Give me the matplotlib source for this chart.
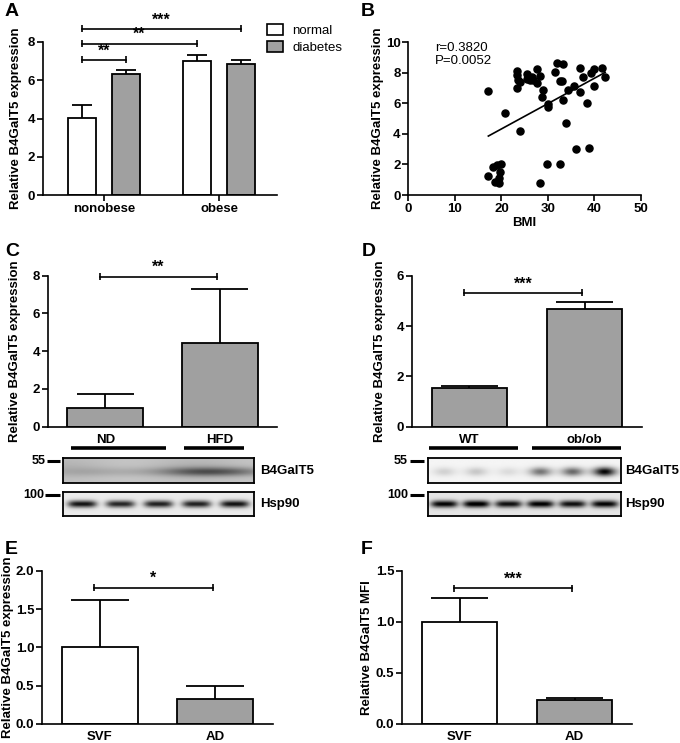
import numpy as np
import matplotlib
matplotlib.use("Agg")
import matplotlib.pyplot as plt
from matplotlib.patches import Patch
from matplotlib.lines import Line2D

plt.rcParams['font.family'] = ['Liberation Sans', 'DejaVu Sans']

# ---------------- data ----------------
# Panel A
a_groups = ["nonobese", "obese"]
a_series = ["normal", "diabetes"]
a_normal = [4.05, 7.02]
a_normal_err = [0.63, 0.30]
a_diabetes = [6.33, 6.87]
a_diabetes_err = [0.22, 0.20]

# Panel B
b_bmi = [17.2, 20.8, 17.2, 18.1, 19.0, 19.9, 19.6, 18.6, 19.4, 19.4,
         23.9, 23.4, 23.4, 23.6, 24.0, 23.4, 25.4, 25.4, 26.5, 26.9,
         27.6, 28.2, 27.7, 26.2, 29.0, 28.7, 30.1, 30.1, 31.5, 32.0,
         33.3, 32.5, 33.1, 33.3, 33.9, 34.4, 35.5, 36.9, 36.8, 37.6,
         38.3, 39.2, 39.8, 39.9, 41.6, 42.3, 36.0, 38.8, 29.9, 28.3, 32.6]
b_expr = [6.83, 5.35, 1.27, 1.86, 1.96, 2.05, 1.49, 0.87, 0.76, 1.10,
          4.17, 8.14, 7.86, 7.53, 7.38, 6.99, 7.92, 7.60, 7.75, 7.53,
          8.25, 7.79, 7.36, 7.53, 6.88, 6.40, 5.96, 5.74, 8.03, 8.62,
          8.56, 7.49, 7.49, 6.22, 4.69, 6.88, 7.14, 8.30, 6.77, 7.75,
          6.05, 7.97, 7.14, 8.23, 8.30, 7.75, 3.01, 3.10, 2.03, 0.76, 2.03]
b_fit_x = [17.2, 42.3]
b_fit_y = [3.86, 8.03]
b_stats = "r=0.3820\nP=0.0052"

# Panel C
c_groups = ["ND", "HFD"]
c_values = [1.0, 4.45]
c_err = [0.75, 2.85]
c_blot_b4 = [0.06, 0.05, 0.07, 0.30, 0.26]
c_blot_hsp = [0.85, 0.78, 0.80, 0.80, 0.86]

# Panel D
d_groups = ["WT", "ob/ob"]
d_values = [1.53, 4.68]
d_err = [0.09, 0.29]
d_blot_b4 = [0.14, 0.18, 0.10, 0.50, 0.55, 0.95]
d_blot_hsp = [0.90, 0.95, 0.85, 0.92, 0.85, 0.90]

# Panel E
e_groups = ["SVF", "AD"]
e_values = [1.0, 0.32]
e_err = [0.62, 0.18]

# Panel F
f_groups = ["SVF", "AD"]
f_values = [1.0, 0.235]
f_err = [0.23, 0.015]

GRAY = '#a0a0a0'
TICK_FS = 9.5
LABEL_FS = 9.5
W, H = 680, 743
fig = plt.figure(figsize=(W / 100, H / 100), dpi=100)


def rect(x0, y0, x1, y1):
    return [x0 / W, 1 - y1 / H, (x1 - x0) / W, (y1 - y0) / H]


def style_axes(ax, ylim, yticks, ylabel, label_px, tick_x=False):
    ax.set_ylim(*ylim)
    ax.set_yticks(yticks)
    for s in ['top', 'right']:
        ax.spines[s].set_visible(False)
    for s in ['left', 'bottom']:
        ax.spines[s].set_linewidth(1.2)
    ax.tick_params(axis='y', direction='out', length=4, width=1.2, pad=1.5,
                   labelsize=TICK_FS)
    ax.tick_params(axis='x', direction='out', length=4 if tick_x else 0,
                   width=1.2, pad=1.5 if tick_x else 5, labelsize=TICK_FS)
    for lab in ax.get_xticklabels() + ax.get_yticklabels():
        lab.set_fontweight('bold')
    ax.set_ylabel(ylabel, fontsize=LABEL_FS, fontweight='bold')
    pos = ax.get_position()
    ax_left_px = pos.x0 * W
    ax_w_px = pos.width * W
    ax.yaxis.set_label_coords((label_px + 6.5 - ax_left_px) / ax_w_px, 0.5)


def px_to_data_h(ax, px):
    pos = ax.get_position()
    ylo, yhi = ax.get_ylim()
    return px / (pos.height * H) * (yhi - ylo)


def err_up(ax, x, val, err, capw):
    ax.vlines(x, val, val + err, color='k', lw=1.3, zorder=1)
    ax.hlines(val + err, x - capw / 2, x + capw / 2, color='k', lw=1.3, zorder=1)


def bracket(ax, x1, x2, y, text):
    h = px_to_data_h(ax, 3.5)
    ax.plot([x1, x2], [y, y], color='k', lw=1.2, clip_on=False)
    ax.vlines([x1, x2], y - h, y + h, color='k', lw=1.2, clip_on=False)
    ax.text((x1 + x2) / 2, y + px_to_data_h(ax, 1.5), text, ha='center',
            va='bottom', fontsize=11.5, fontweight='bold', clip_on=False)


def two_bar_panel(axrect, groups, values, errs, colors, ylim, yticks, ylabel,
                  label_px, sig_y, sig_text):
    ax = fig.add_axes(rect(*axrect))
    x = np.arange(len(groups))
    ax.bar(x, values, width=0.66, color=colors, edgecolor='k', linewidth=1.3,
           zorder=2)
    for xi, v, e in zip(x, values, errs):
        err_up(ax, xi, v, e, 0.5)
    ax.set_xlim(-0.5, 1.5)
    ax.set_xticks(x)
    ax.set_xticklabels(groups)
    style_axes(ax, ylim, yticks, ylabel, label_px)
    bracket(ax, x[0] - 0.05, x[1] - 0.02, sig_y, sig_text)
    return ax


def blot_image(intens, bg, width_frac, shape, smear=False):
    nrow, ncol = 40, 300
    n = len(intens)
    xs = np.linspace(0, 1, ncol)
    ys = np.linspace(0, 1, nrow)
    X, Y = np.meshgrid(xs, ys)
    img = np.full((nrow, ncol), bg)
    lw = 1.0 / n
    for i, v in enumerate(intens):
        cx = (i + 0.5) * lw
        sx = width_frac * lw
        if shape == 'flat':
            prof = np.exp(-np.abs((X - cx) / sx) ** 4) * np.exp(-((Y - 0.5) / 0.15) ** 2)
        else:
            prof = np.exp(-((X - cx) / sx) ** 2) * np.exp(-((Y - 0.55) / 0.18) ** 2)
        img = img + v * prof
    if smear:
        img = img + 0.08 * np.exp(-((Y - 0.4) / 0.5) ** 2) * (0.6 + 0.4 * np.cos(X * 9))
    return np.clip(img, 0, 1)


def blot_axes(box, img):
    ax = fig.add_axes(rect(*box))
    ax.imshow(img, cmap='gray_r', vmin=0, vmax=1, aspect='auto',
              interpolation='bilinear')
    ax.set_xticks([])
    ax.set_yticks([])
    for s in ax.spines.values():
        s.set_linewidth(1.3)
    return ax


def fig_line(x0, x1, y, lw=2.6):
    fig.add_artist(Line2D([x0 / W, x1 / W], [1 - y / H, 1 - y / H],
                          transform=fig.transFigure, color='k', lw=lw,
                          solid_capstyle='butt'))


def fig_text(x, y, s, **kw):
    fig.text(x / W, 1 - y / H, s, **kw)


# ---------------- Panel A ----------------
axA = fig.add_axes(rect(43, 42, 277, 195))
gx = np.arange(len(a_groups))
off = 0.19
bw = 0.245
axA.bar(gx - off, a_normal, width=bw, color='white', edgecolor='k', lw=1.3, zorder=2)
axA.bar(gx + off, a_diabetes, width=bw, color=GRAY, edgecolor='k', lw=1.3, zorder=2)
for xi, v, e in zip(gx - off, a_normal, a_normal_err):
    err_up(axA, xi, v, e, 0.17)
for xi, v, e in zip(gx + off, a_diabetes, a_diabetes_err):
    err_up(axA, xi, v, e, 0.17)
axA.set_xlim(-0.53, 1.504)
axA.set_xticks(gx)
axA.set_xticklabels(a_groups)
style_axes(axA, (0, 8), [0, 2, 4, 6, 8], "Relative B4GalT5 expression", 16, tick_x=True)
bracket(axA, gx[0] - off, gx[0] + off, 7.07, "**")
bracket(axA, gx[0] - off, gx[1] - off, 7.91, "**")
bracket(axA, gx[0] - off, gx[1] + off, 8.68, "***")
handles = [Patch(facecolor='white', edgecolor='k', lw=1.2, label=a_series[0]),
           Patch(facecolor=GRAY, edgecolor='k', lw=1.2, label=a_series[1])]
fig.legend(handles=handles, loc='upper left', bbox_to_anchor=(267 / W, 1 - 24 / H),
           frameon=False, fontsize=9.5, handlelength=1.2, handleheight=0.9,
           handletextpad=0.7, labelspacing=0.3, borderaxespad=0, borderpad=0)

# ---------------- Panel B ----------------
axB = fig.add_axes(rect(408.3, 42.3, 641, 195))
axB.scatter(b_bmi, b_expr, s=26, color='k', zorder=3, clip_on=False)
axB.plot(b_fit_x, b_fit_y, color='k', lw=1.2)
axB.set_xlim(0, 50)
axB.set_xticks([0, 10, 20, 30, 40, 50])
style_axes(axB, (0, 10), [0, 2, 4, 6, 8, 10], "Relative B4GalT5 expression", 378,
           tick_x=True)
axB.set_xlabel("BMI", fontsize=LABEL_FS, fontweight='bold', labelpad=2)
axB.text(0.115, 1.0, b_stats, transform=axB.transAxes, fontsize=9.5,
         va='top', ha='left', linespacing=1.05)

# ---------------- Panel C ----------------
axC = two_bar_panel((48, 275.7, 277, 426.7), c_groups, c_values, c_err,
                    [GRAY, GRAY], (0, 8), [0, 2, 4, 6, 8],
                    "Relative B4GalT5 expression", 15, 7.95, "**")
fig_line(71, 166, 448.5)
fig_line(184, 244, 448.5)
blot_axes((63, 458, 254, 483), blot_image(c_blot_b4, 0.22, 0.9, 'round', smear=True))
blot_axes((63, 492, 254, 516), blot_image(c_blot_hsp, 0.08, 0.38, 'flat'))
fig_line(47, 60, 461, lw=2.2)
fig_line(45, 60, 494.5, lw=2.2)
fig_text(46, 461, "55", ha='right', va='center', fontsize=9, fontweight='bold')
fig_text(44, 494.5, "100", ha='right', va='center', fontsize=9, fontweight='bold')
fig_text(260, 470.5, "B4GalT5", ha='left', va='center', fontsize=9.5, fontweight='bold')
fig_text(260, 504, "Hsp90", ha='left', va='center', fontsize=9.5, fontweight='bold')

# ---------------- Panel D ----------------
axD = two_bar_panel((412, 276, 642, 426.7), d_groups, d_values, d_err,
                    [GRAY, GRAY], (0, 6), [0, 2, 4, 6],
                    "Relative B4GalT5 expression", 380, 5.33, "***")
fig_line(429, 518, 448.5)
fig_line(532, 621, 448.5)
blot_axes((428, 458, 621, 483), blot_image(d_blot_b4, 0.04, 0.35, 'round'))
blot_axes((428, 492, 621, 516), blot_image(d_blot_hsp, 0.10, 0.42, 'flat'))
fig_line(410, 424, 461, lw=2.2)
fig_line(410, 424, 494.5, lw=2.2)
fig_text(408, 461, "55", ha='right', va='center', fontsize=9, fontweight='bold')
fig_text(408, 494.5, "100", ha='right', va='center', fontsize=9, fontweight='bold')
fig_text(625, 470.5, "B4GalT5", ha='left', va='center', fontsize=9.5, fontweight='bold')
fig_text(625, 504, "Hsp90", ha='left', va='center', fontsize=9.5, fontweight='bold')

# ---------------- Panel E ----------------
axE = two_bar_panel((42, 570.7, 273, 724), e_groups, e_values, e_err,
                    ['white', GRAY], (0, 2.0), [0.0, 0.5, 1.0, 1.5, 2.0],
                    "Relative B4GalT5 expression", 8, 1.78, "*")
axE.yaxis.set_major_formatter(matplotlib.ticker.FormatStrFormatter('%.1f'))
for lab in axE.get_yticklabels():
    lab.set_fontweight('bold')

# ---------------- Panel F ----------------
axF = two_bar_panel((402, 570.7, 632, 724), f_groups, f_values, f_err,
                    ['white', GRAY], (0, 1.5), [0.0, 0.5, 1.0, 1.5],
                    "Relative B4GalT5 MFI", 367, 1.33, "***")
axF.yaxis.set_major_formatter(matplotlib.ticker.FormatStrFormatter('%.1f'))
for lab in axF.get_yticklabels():
    lab.set_fontweight('bold')

# panel letters
for letter, (x, y) in zip("ABCDEF", [(5, 12), (361, 12), (5, 252), (362, 252),
                                     (5, 550), (361, 550)]):
    fig_text(x, y, letter, ha='left', va='center', fontsize=14, fontweight='bold')

fig.savefig("out.png", dpi=100)
